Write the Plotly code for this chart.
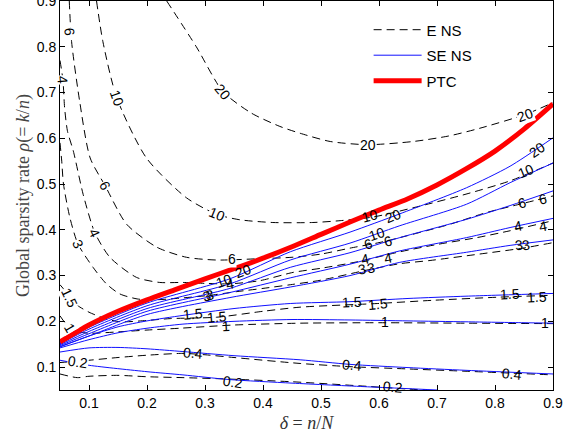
import plotly.graph_objects as go

# ---------------- data ----------------
# Phase transition curve (PTC)
ptc_delta = [0.05, 0.10, 0.15, 0.20, 0.25, 0.30, 0.35, 0.40, 0.45, 0.50, 0.55, 0.60, 0.65, 0.70, 0.75, 0.80, 0.85, 0.90]
ptc_rho   = [0.155, 0.192, 0.222, 0.247, 0.270, 0.293, 0.315, 0.338, 0.363, 0.390, 0.417, 0.443, 0.468, 0.498, 0.533, 0.572, 0.620, 0.675]

# E NS contour levels (dashed)
ens20_delta = [0.234, 0.285, 0.331, 0.38, 0.429, 0.464, 0.516, 0.581, 0.659, 0.72, 0.774, 0.852, 0.9]
ens20_rho   = [0.90, 0.80, 0.702, 0.655, 0.626, 0.611, 0.593, 0.586, 0.593, 0.605, 0.622, 0.652, 0.678]
ens10_delta = [0.113, 0.124, 0.148, 0.199, 0.268, 0.32, 0.36, 0.417, 0.486, 0.533, 0.59, 0.671, 0.75, 0.826, 0.9]
ens10_rho   = [0.90, 0.811, 0.688, 0.557, 0.470, 0.434, 0.422, 0.416, 0.416, 0.420, 0.428, 0.452, 0.478, 0.507, 0.546]
ens6_delta  = [0.066, 0.070, 0.084, 0.102, 0.128, 0.165, 0.217, 0.268, 0.32, 0.395, 0.45, 0.50, 0.55, 0.60, 0.636, 0.722, 0.786, 0.846, 0.9]
ens6_rho    = [0.90, 0.811, 0.680, 0.557, 0.496, 0.412, 0.362, 0.340, 0.334, 0.337, 0.340, 0.347, 0.360, 0.372, 0.383, 0.412, 0.438, 0.457, 0.474]
ens4_delta  = [0.05, 0.055, 0.058, 0.063, 0.073, 0.09, 0.11, 0.136, 0.182, 0.222, 0.262, 0.30, 0.343, 0.395, 0.452, 0.50, 0.562, 0.636, 0.70, 0.769, 0.826, 0.9]
ens4_rho    = [0.77, 0.728, 0.666, 0.615, 0.572, 0.477, 0.394, 0.340, 0.296, 0.285, 0.285, 0.283, 0.282, 0.289, 0.307, 0.316, 0.330, 0.352, 0.368, 0.383, 0.398, 0.42]
ens3_delta  = [0.05, 0.053, 0.056, 0.067, 0.081, 0.107, 0.13, 0.153, 0.183, 0.21, 0.25, 0.309, 0.355, 0.40, 0.447, 0.50, 0.579, 0.636, 0.688, 0.779, 0.848, 0.9]
ens3_rho    = [0.59, 0.55, 0.50, 0.427, 0.369, 0.318, 0.282, 0.26, 0.249, 0.247, 0.25, 0.257, 0.265, 0.272, 0.28, 0.29, 0.312, 0.326, 0.333, 0.348, 0.36, 0.372]
ens15_delta = [0.05, 0.06, 0.068, 0.08, 0.10, 0.13, 0.155, 0.20, 0.24, 0.32, 0.40, 0.464, 0.598, 0.693, 0.809, 0.9]
ens15_rho   = [0.28, 0.265, 0.252, 0.235, 0.22, 0.205, 0.199, 0.202, 0.206, 0.209, 0.222, 0.231, 0.239, 0.246, 0.253, 0.257]
ens1_delta  = [0.05, 0.058, 0.067, 0.08, 0.10, 0.15, 0.20, 0.257, 0.35, 0.464, 0.60, 0.75, 0.9]
ens1_rho    = [0.212, 0.198, 0.188, 0.178, 0.174, 0.177, 0.181, 0.185, 0.192, 0.196, 0.197, 0.196, 0.195]
ens04_delta = [0.05, 0.10, 0.15, 0.20, 0.262, 0.30, 0.35, 0.464, 0.55, 0.65, 0.75, 0.9]
ens04_rho   = [0.11, 0.115, 0.121, 0.126, 0.13, 0.127, 0.121, 0.108, 0.101, 0.096, 0.091, 0.083]
ens02_delta = [0.05, 0.08, 0.10, 0.15, 0.20, 0.262, 0.34, 0.45, 0.58, 0.65, 0.68]
ens02_rho   = [0.085, 0.077, 0.080, 0.082, 0.079, 0.077, 0.074, 0.068, 0.058, 0.052, 0.05]

# SE NS contour levels (solid blue)
se_delta  = [0.05, 0.10, 0.20, 0.343, 0.447, 0.55, 0.636, 0.751, 0.826, 0.9]
se20_rho  = [0.153, 0.187, 0.240, 0.293, 0.352, 0.395, 0.435, 0.492, 0.539, 0.601]
se10_rho  = [0.151, 0.183, 0.234, 0.282, 0.334, 0.371, 0.409, 0.456, 0.503, 0.546]
se6_rho   = [0.149, 0.178, 0.228, 0.272, 0.318, 0.350, 0.383, 0.423, 0.453, 0.485]
se4_rho   = [0.147, 0.173, 0.222, 0.263, 0.295, 0.325, 0.354, 0.383, 0.405, 0.425]
se3_rho   = [0.145, 0.168, 0.215, 0.252, 0.275, 0.300, 0.329, 0.351, 0.366, 0.378]
se15_delta = [0.05, 0.10, 0.15, 0.20, 0.262, 0.35, 0.447, 0.55, 0.65, 0.75, 0.85, 0.9]
se15_rho   = [0.144, 0.168, 0.188, 0.201, 0.213, 0.228, 0.239, 0.243, 0.250, 0.255, 0.259, 0.261]
se1_delta  = [0.05, 0.10, 0.15, 0.20, 0.262, 0.35, 0.45, 0.55, 0.65, 0.75, 0.85, 0.9]
se1_rho    = [0.142, 0.160, 0.175, 0.185, 0.194, 0.200, 0.204, 0.203, 0.201, 0.199, 0.197, 0.196]
se04_delta = [0.05, 0.10, 0.15, 0.20, 0.262, 0.35, 0.464, 0.55, 0.65, 0.75, 0.9]
se04_rho   = [0.133, 0.142, 0.143, 0.140, 0.134, 0.125, 0.116, 0.106, 0.099, 0.093, 0.085]
se02_delta = [0.05, 0.10, 0.20, 0.262, 0.34, 0.45, 0.58, 0.65, 0.70]
se02_rho   = [0.115, 0.104, 0.090, 0.083, 0.073, 0.065, 0.057, 0.053, 0.05]

# contour labels
label_delta = [0.331, 0.581, 0.852, 0.148, 0.32, 0.584, 0.854, 0.067, 0.128, 0.346, 0.581, 0.846,
               0.055, 0.11, 0.343, 0.576, 0.84, 0.081, 0.304, 0.309, 0.571, 0.586, 0.842, 0.854,
               0.067, 0.32, 0.599, 0.872, 0.067, 0.337, 0.61, 0.886, 0.279, 0.553, 0.829,
               0.081, 0.348, 0.624, 0.366, 0.624, 0.872, 0.332, 0.596, 0.616, 0.883, 0.615, 0.883,
               0.279, 0.553, 0.826]
label_rho   = [0.702, 0.586, 0.652, 0.688, 0.434, 0.430, 0.528, 0.833, 0.496, 0.336, 0.370, 0.459,
               0.728, 0.394, 0.282, 0.337, 0.409, 0.369, 0.255, 0.257, 0.315, 0.316, 0.366, 0.367,
               0.252, 0.209, 0.239, 0.254, 0.186, 0.190, 0.198, 0.196, 0.130, 0.104, 0.086,
               0.112, 0.068, 0.057, 0.311, 0.430, 0.575, 0.289, 0.390, 0.376, 0.467, 0.339, 0.409,
               0.217, 0.243, 0.260]
label_text  = ["20", "20", "20", "10", "10", "10", "10", "6", "6", "6", "6", "6",
               "4", "4", "4", "4", "4", "3", "3", "3", "3", "3", "3", "3",
               "1.5", "1.5", "1.5", "1.5", "1", "1", "1", "1", "0.4", "0.4", "0.4",
               "0.2", "0.2", "0.2", "20", "20", "20", "10", "10", "6", "6", "4", "4",
               "1.5", "1.5", "1.5"]
label_angle = [50, 0, -20, 70, 22, -15, -22, 85, 62, 0, -18, -15,
               85, 65, -10, -12, -12, 65, -12, -12, -10, -10, -8, -8,
               65, -5, -5, -3, 60, -3, 0, 0, 5, 5, 5,
               8, 8, 5, -20, -22, -35, -20, -18, -15, -12, -12, -10,
               -5, -3, -3]
label_gap   = [True, True, True, True, True, False, False, True, True, True, False, False,
               True, True, False, False, False, True, False, False, False, False, False, False,
               True, False, False, False, True, False, False, False, False, False, False,
               True, False, False, False, False, False, False, False, False, False, False, False,
               False, False, False]


def joined(pairs):
    xs, ys = [], []
    for dx, ry in pairs:
        if xs:
            xs.append(None)
            ys.append(None)
        xs.extend(dx)
        ys.extend(ry)
    return xs, ys


ens_x, ens_y = joined([(ens20_delta, ens20_rho), (ens10_delta, ens10_rho), (ens6_delta, ens6_rho),
                       (ens4_delta, ens4_rho), (ens3_delta, ens3_rho), (ens15_delta, ens15_rho),
                       (ens1_delta, ens1_rho), (ens04_delta, ens04_rho), (ens02_delta, ens02_rho)])
se_x, se_y = joined([(se_delta, se20_rho), (se_delta, se10_rho), (se_delta, se6_rho),
                     (se_delta, se4_rho), (se_delta, se3_rho), (se15_delta, se15_rho),
                     (se1_delta, se1_rho), (se04_delta, se04_rho), (se02_delta, se02_rho)])

fig = go.Figure()
fig.add_trace(go.Scatter(x=ens_x, y=ens_y, mode="lines", name="E NS", legendgroup="a",
                         line=dict(color="black", width=1, dash="8px,5px", shape="spline", smoothing=0.7),
                         connectgaps=False))
fig.add_trace(go.Scatter(x=se_x, y=se_y, mode="lines", name="SE NS", legendgroup="b",
                         line=dict(color="#1010ff", width=1, shape="spline", smoothing=0.7),
                         connectgaps=False))
fig.add_trace(go.Scatter(x=ptc_delta, y=ptc_rho, mode="lines", name="PTC", legendgroup="c",
                         line=dict(color="#ff0000", width=5, shape="spline", smoothing=0.7)))

for d, r, t, a, g in zip(label_delta, label_rho, label_text, label_angle, label_gap):
    fig.add_annotation(x=d, y=r, text=t, textangle=a, showarrow=False,
                       font=dict(family="Liberation Sans, Arial", size=14, color="black"),
                       bgcolor="white" if g else "rgba(0,0,0,0)", borderpad=0)

axis_common = dict(showline=True, linecolor="black", linewidth=1, mirror="ticks",
                   ticks="inside", ticklen=5, tickcolor="black", showgrid=False, zeroline=False,
                   automargin=False, ticklabeloverflow="allow",
                   tickfont=dict(family="Liberation Sans, Arial", size=14, color="black"))

fig.update_xaxes(range=[0.05, 0.9], tickvals=[0.1, 0.2, 0.3, 0.4, 0.5, 0.6, 0.7, 0.8, 0.9],
                 tickformat=".1f",
                 title=dict(text="<i>δ</i> = <i>n</i>/<i>N</i>", standoff=6,
                            font=dict(family="Liberation Serif, Times New Roman", size=18, color="#333")),
                 **axis_common)
fig.update_yaxes(range=[0.05, 0.9], tickvals=[0.1, 0.2, 0.3, 0.4, 0.5, 0.6, 0.7, 0.8, 0.9],
                 tickformat=".1f",
                 title=dict(text="Global sparsity rate <i>ρ</i>(= <i>k</i>/<i>n</i>)", standoff=2,
                            font=dict(family="Liberation Serif, Times New Roman", size=18, color="#444")),
                 **axis_common)

fig.update_layout(
    width=580, height=442,
    margin=dict(l=60, r=27, t=1, b=52, autoexpand=False),
    plot_bgcolor="white", paper_bgcolor="white",
    showlegend=True,
    legend=dict(x=0.626, y=0.968, xanchor="left", yanchor="top", itemwidth=48,
                bgcolor="rgba(255,255,255,0)", borderwidth=0, tracegroupgap=3,
                font=dict(family="Liberation Sans, Arial", size=15, color="black")),
)

fig.write_html("out.html", config={"displayModeBar": False},
               post_script="document.body.style.margin='0';document.body.style.overflow='hidden';")
